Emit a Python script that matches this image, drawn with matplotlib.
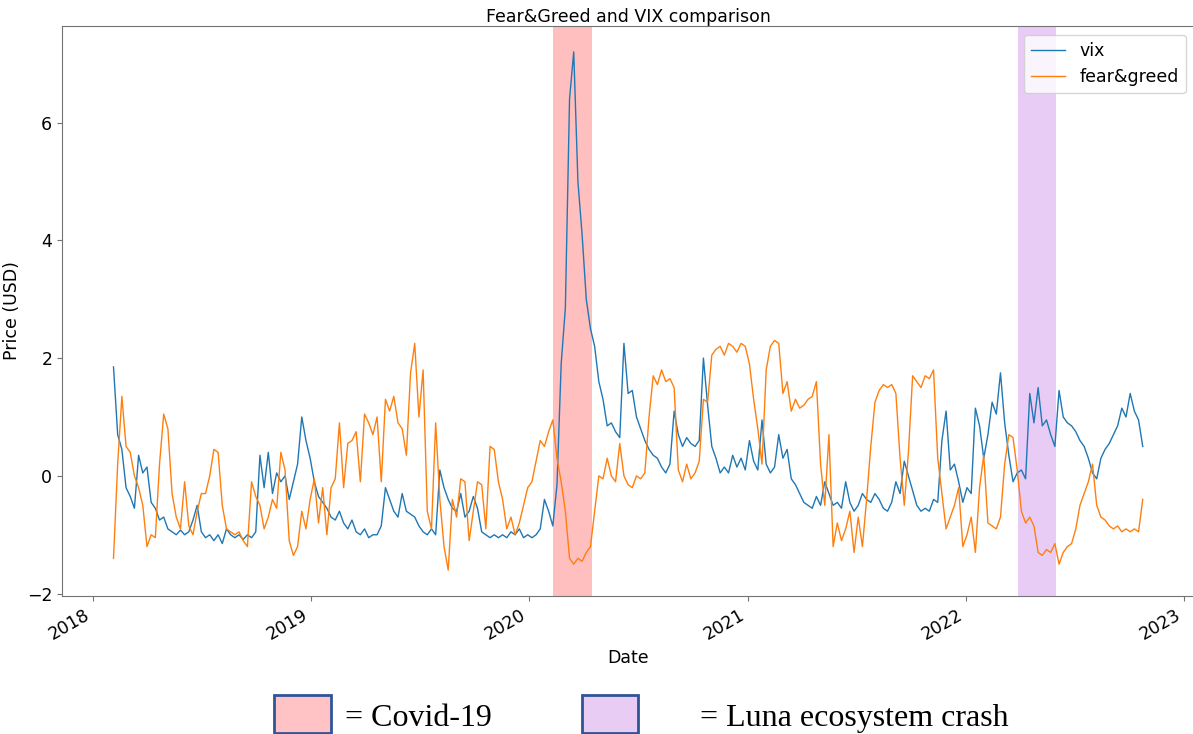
import pandas as pd
import matplotlib
matplotlib.use("Agg")
import matplotlib.pyplot as plt
import matplotlib.dates as mdates
from matplotlib.patches import Rectangle

# weekly readings, first week starts 2018-02-05
vix_2018 = [1.85, 0.7, 0.45, -0.2, -0.35, -0.55, 0.35, 0.05, 0.15, -0.45,
            -0.55, -0.75, -0.7, -0.9, -0.95, -1.0, -0.92, -1.0, -0.95, -0.75,
            -0.5, -0.95, -1.05, -1.0, -1.1, -1.0, -1.15, -0.9, -1.0, -1.05,
            -1.0, -1.08, -1.0, -1.05, -0.95, 0.35, -0.2, 0.4, -0.3, 0.05,
            -0.1, 0.0, -0.4, -0.1, 0.2, 1.0, 0.6, 0.3]
vix_2019 = [-0.1, -0.35, -0.45, -0.55, -0.7, -0.75, -0.6, -0.8, -0.9, -0.75,
            -0.95, -1.0, -0.9, -1.05, -1.0, -1.0, -0.85, -0.2, -0.4, -0.6,
            -0.7, -0.3, -0.6, -0.65, -0.7, -0.85, -0.95, -1.0, -0.9, -1.0,
            0.1, -0.2, -0.4, -0.55, -0.6, -0.3, -0.7, -0.6, -0.35, -0.55,
            -0.95, -1.0, -1.05, -1.0, -1.05, -1.0, -1.05, -0.95, -1.0, -0.9,
            -1.05, -1.0]
vix_2020 = [-1.05, -1.0, -0.9, -0.4, -0.6, -0.85, -0.15, 1.9, 2.85, 6.4,
            7.2, 5.0, 4.1, 3.0, 2.5, 2.2, 1.6, 1.3, 0.85, 0.9,
            0.75, 0.65, 2.25, 1.4, 1.45, 1.0, 0.8, 0.6, 0.45, 0.35,
            0.3, 0.15, 0.05, 0.2, 1.1, 0.7, 0.5, 0.65, 0.55, 0.5,
            0.6, 2.0, 1.2, 0.5, 0.3, 0.05, 0.15, 0.05, 0.35, 0.15,
            0.3, 0.1]
vix_2021 = [0.6, 0.25, 0.1, 0.95, 0.2, 0.05, 0.15, 0.7, 0.3, 0.45,
            -0.05, -0.15, -0.3, -0.45, -0.5, -0.55, -0.35, -0.5, -0.1, -0.3,
            -0.5, -0.45, -0.55, -0.1, -0.45, -0.6, -0.5, -0.3, -0.4, -0.45,
            -0.3, -0.4, -0.55, -0.6, -0.45, -0.1, -0.3, 0.25, 0.0, -0.25,
            -0.5, -0.6, -0.55, -0.6, -0.4, -0.45, 0.6, 1.1, 0.1, 0.2,
            -0.1, -0.45]
vix_2022 = [-0.2, -0.3, 1.15, 0.85, 0.3, 0.7, 1.25, 1.05, 1.75, 0.9,
            0.35, -0.1, 0.05, 0.1, -0.05, 1.4, 0.9, 1.5, 0.85, 0.95,
            0.7, 0.5, 1.45, 1.0, 0.9, 0.85, 0.75, 0.6, 0.5, 0.3,
            0.05, -0.05, 0.3, 0.45, 0.55, 0.7, 0.85, 1.15, 1.0, 1.4,
            1.1, 0.95, 0.5]

fg_2018 = [-1.4, 0.2, 1.35, 0.5, 0.4, 0.0, -0.2, -0.5, -1.2, -1.0,
           -1.05, 0.2, 1.05, 0.8, -0.3, -0.7, -0.9, -0.1, -0.85, -1.0,
           -0.6, -0.3, -0.3, 0.0, 0.45, 0.4, -0.5, -0.9, -0.95, -1.0,
           -0.95, -1.1, -1.2, -0.1, -0.35, -0.5, -0.9, -0.7, -0.4, -0.55,
           0.4, 0.1, -1.1, -1.35, -1.2, -0.6, -0.9, -0.4]
fg_2019 = [-0.05, -0.8, -0.2, -1.0, -0.2, -0.05, 0.9, -0.2, 0.55, 0.6,
           0.75, -0.1, 1.05, 0.9, 0.7, 1.0, -0.1, 1.3, 1.1, 1.35,
           0.9, 0.8, 0.35, 1.75, 2.25, 1.0, 1.8, -0.6, -0.9, 0.9,
           -0.4, -1.2, -1.6, -0.4, -0.7, -0.05, -0.1, -1.1, -0.6, -0.1,
           -0.15, -0.9, 0.5, 0.45, -0.1, -0.4, -0.9, -0.7, -1.0, -0.8,
           -0.5, -0.2]
fg_2020 = [-0.1, 0.25, 0.6, 0.5, 0.75, 0.95, 0.3, -0.1, -0.6, -1.4,
           -1.5, -1.4, -1.45, -1.3, -1.2, -0.6, 0.0, -0.05, 0.3, 0.0,
           -0.1, 0.55, 0.0, -0.15, -0.2, 0.0, -0.05, 0.05, 1.0, 1.7,
           1.55, 1.8, 1.6, 1.65, 1.5, 0.1, -0.1, 0.2, -0.05, 0.05,
           0.25, 1.3, 1.25, 2.05, 2.15, 2.2, 2.05, 2.25, 2.2, 2.1,
           2.25, 2.2]
fg_2021 = [1.9, 1.3, 0.8, 0.2, 1.8, 2.2, 2.3, 2.25, 1.4, 1.6,
           1.1, 1.3, 1.15, 1.2, 1.3, 1.35, 1.6, 0.2, -0.5, 0.7,
           -1.2, -0.8, -1.1, -0.9, -0.6, -1.3, -0.7, -1.2, -0.4, 0.5,
           1.25, 1.45, 1.55, 1.5, 1.55, 1.4, 0.3, -0.5, 0.4, 1.7,
           1.6, 1.5, 1.7, 1.65, 1.8, 0.3, -0.3, -0.9, -0.7, -0.5,
           -0.2, -1.2]
fg_2022 = [-1.0, -0.7, -1.3, -0.2, 0.35, -0.8, -0.85, -0.9, -0.7, 0.2,
           0.7, 0.65, 0.1, -0.6, -0.8, -0.7, -0.85, -1.3, -1.35, -1.25,
           -1.3, -1.15, -1.5, -1.3, -1.2, -1.15, -0.9, -0.5, -0.3, -0.1,
           0.2, -0.5, -0.7, -0.75, -0.85, -0.9, -0.85, -0.95, -0.9, -0.95,
           -0.9, -0.95, -0.4]

vix = vix_2018 + vix_2019 + vix_2020 + vix_2021 + vix_2022
fear_greed = fg_2018 + fg_2019 + fg_2020 + fg_2021 + fg_2022
dates = pd.date_range("2018-02-05", periods=len(vix), freq="7D")

events = {"Covid-19": ("2020-02-11", "2020-04-16"),
          "Luna ecosystem crash": ("2022-03-29", "2022-06-01")}

fig = plt.figure(figsize=(11.93, 7.34), dpi=100)
ax = fig.add_axes([0.052, 0.188, 0.949, 0.7766])

ax.plot(dates, vix, color="tab:blue", lw=1.0, label="vix")
ax.plot(dates, fear_greed, color="tab:orange", lw=1.0, label="fear&greed")

# spans on top of the lines, like the original
c0, c1 = events["Covid-19"]
ax.axvspan(pd.Timestamp(c0), pd.Timestamp(c1), color="red", alpha=0.25, lw=0)
l0, l1 = events["Luna ecosystem crash"]
ax.axvspan(pd.Timestamp(l0), pd.Timestamp(l1), color="darkviolet", alpha=0.2, lw=0)

ax.xaxis.set_major_locator(mdates.YearLocator())
ax.xaxis.set_major_formatter(mdates.DateFormatter("%Y"))
for lab in ax.get_xticklabels():
    lab.set_rotation(30)
    lab.set_ha("right")
ax.tick_params(labelsize=12.5, colors="0.45", labelcolor="black")
for s in ax.spines.values():
    s.set_color("0.45")

ax.set_title("Fear&Greed and VIX comparison", fontsize=12.5, pad=1.5)
ax.set_xlabel("Date", fontsize=12.5)
ax.set_ylabel("Price (USD)", fontsize=12.5)
ax.legend(loc="upper right", fontsize=12.5)

# key under the chart
fig.patches.append(Rectangle((0.2297, 0.0014), 0.0478, 0.0518, transform=fig.transFigure,
                             facecolor="#FFC3C6", edgecolor="#2F5597", lw=2))
fig.patches.append(Rectangle((0.4878, 0.0014), 0.047, 0.0518, transform=fig.transFigure,
                             facecolor="#E8CCF4", edgecolor="#2F5597", lw=2))
fig.text(0.289, 0.002, "= Covid-19", fontsize=23, family="Liberation Serif", va="bottom")
fig.text(0.5868, 0.002, "= Luna ecosystem crash", fontsize=23, family="Liberation Serif",
         va="bottom")

fig.savefig("out.png", dpi=100)
